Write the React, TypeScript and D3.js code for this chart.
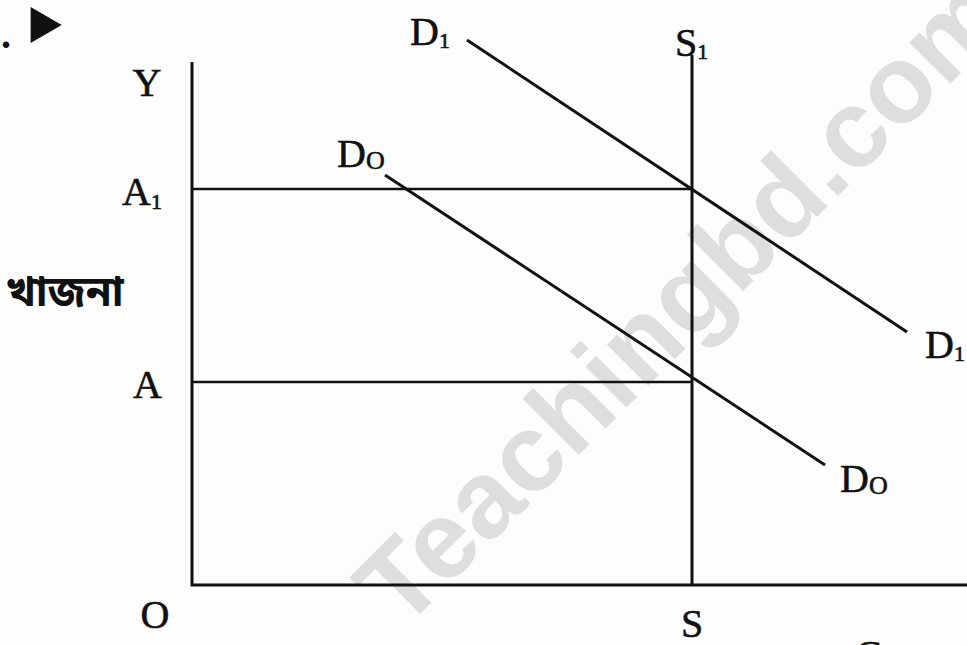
import React from 'react';
import * as d3 from 'd3';

// rent (y) vs land supply (x) - fixed supply S1, demand shifts D0 -> D1
const supplyQty = 5.0;
const supplyLine = [
  [5.0, 0],
  [5.0, 5.3],
];
const demandD0 = [
  [1.93, 4.1],
  [6.33, 1.2],
];
const demandD1 = [
  [2.75, 5.45],
  [7.15, 2.53],
];
const rentLevels = [
  { label: 'A', sub: '', value: 2.03 },
  { label: 'A', sub: '1', value: 3.96 },
];
const xAxisMax = 7.75;
const yAxisMax = 5.23;

const W = 967;
const H = 645;
const serif = '"Liberation Serif", "Times New Roman", serif';

export default function App() {
  const x = d3.scaleLinear().domain([0, xAxisMax]).range([192, 967]);
  const y = d3.scaleLinear().domain([0, 5.3]).range([585, 55]);
  const line = d3
    .line<number[]>()
    .x((d) => x(d[0]))
    .y((d) => y(d[1]));

  const tri = d3.symbol().type(d3.symbolTriangle).size(560)();

  const d0Start = demandD0[0];
  const d0End = demandD0[1];
  const d1Start = demandD1[0];
  const d1End = demandD1[1];

  return (
    <svg
      width={W}
      height={H}
      style={{ position: 'absolute', left: 0, top: 0, background: '#fff' }}
    >
      <rect width={W} height={H} fill="#fdfdfd" />

      {/* watermark */}
      <text
        transform="translate(402,632) rotate(-45)"
        fontFamily='"Liberation Sans", Arial, sans-serif'
        fontWeight="bold"
        fontSize={110}
        fill="#dedede"
      >
        Teachingbd.com
      </text>

      {/* question marker */}
      <text x={1} y={48} fontFamily={serif} fontWeight="bold" fontSize={40} fill="#111">
        .
      </text>
      <path d={tri || ''} transform="translate(41,25) rotate(90)" fill="#111" />

      {/* axes */}
      <path
        d={line([
          [0, yAxisMax],
          [0, 0],
          [xAxisMax, 0],
        ])!}
        fill="none"
        stroke="#111"
        strokeWidth={3}
      />

      {/* rent levels */}
      {rentLevels.map((r) => (
        <path
          key={r.label + r.sub}
          d={line([
            [0, r.value],
            [supplyQty, r.value],
          ])!}
          stroke="#111"
          strokeWidth={2.6}
        />
      ))}

      {/* supply and demand */}
      <path d={line(supplyLine)!} stroke="#111" strokeWidth={3} />
      <path d={line(demandD0)!} stroke="#111" strokeWidth={3} />
      <path d={line(demandD1)!} stroke="#111" strokeWidth={3} />

      <g fontFamily={serif} fill="#111" stroke="#111" strokeWidth={0.6} fontSize={40}>
        <text x={x(0) - 45} y={y(yAxisMax) + 34} textAnchor="middle">
          Y
        </text>
        {rentLevels.map((r) => (
          <text
            key={'l' + r.label + r.sub}
            x={x(0) - 30}
            y={y(r.value) + 16}
            textAnchor="end"
          >
            {r.label}
            {r.sub && (
              <tspan fontSize={22} dy={4}>
                {r.sub}
              </tspan>
            )}
          </text>
        ))}
        <text
          x={6}
          y={306}
          fontSize={42}
          strokeWidth={0}
          fontFamily='"Noto Sans Bengali", "Noto Serif Bengali", "Lohit Bengali", "Noto Sans", sans-serif'
          fontWeight="bold"
        >
          খাজনা
        </text>
        <text x={x(0) - 37} y={628} textAnchor="middle">
          O
        </text>
        <text x={x(supplyQty)} y={637} textAnchor="middle">
          S
        </text>
        <text x={x(supplyQty) - 17} y={y(5.3) + 1}>
          S
          <tspan fontSize={22} dy={3}>
            1
          </tspan>
        </text>
        <text x={x(d1Start[0]) - 57} y={y(d1Start[1]) + 5}>
          D
          <tspan fontSize={22} dy={3}>
            1
          </tspan>
        </text>
        <text x={x(d1End[0]) + 18} y={y(d1End[1]) + 26}>
          D
          <tspan fontSize={22} dy={3}>
            1
          </tspan>
        </text>
        <text x={x(d0Start[0]) - 48} y={y(d0Start[1]) - 8}>
          D
          <tspan fontSize={26} dy={2}>
            O
          </tspan>
        </text>
        <text x={x(d0End[0]) + 15} y={y(d0End[1]) + 27}>
          D
          <tspan fontSize={26} dy={2}>
            O
          </tspan>
        </text>
        <text x={855} y={668}>
          C
        </text>
      </g>
    </svg>
  );
}
